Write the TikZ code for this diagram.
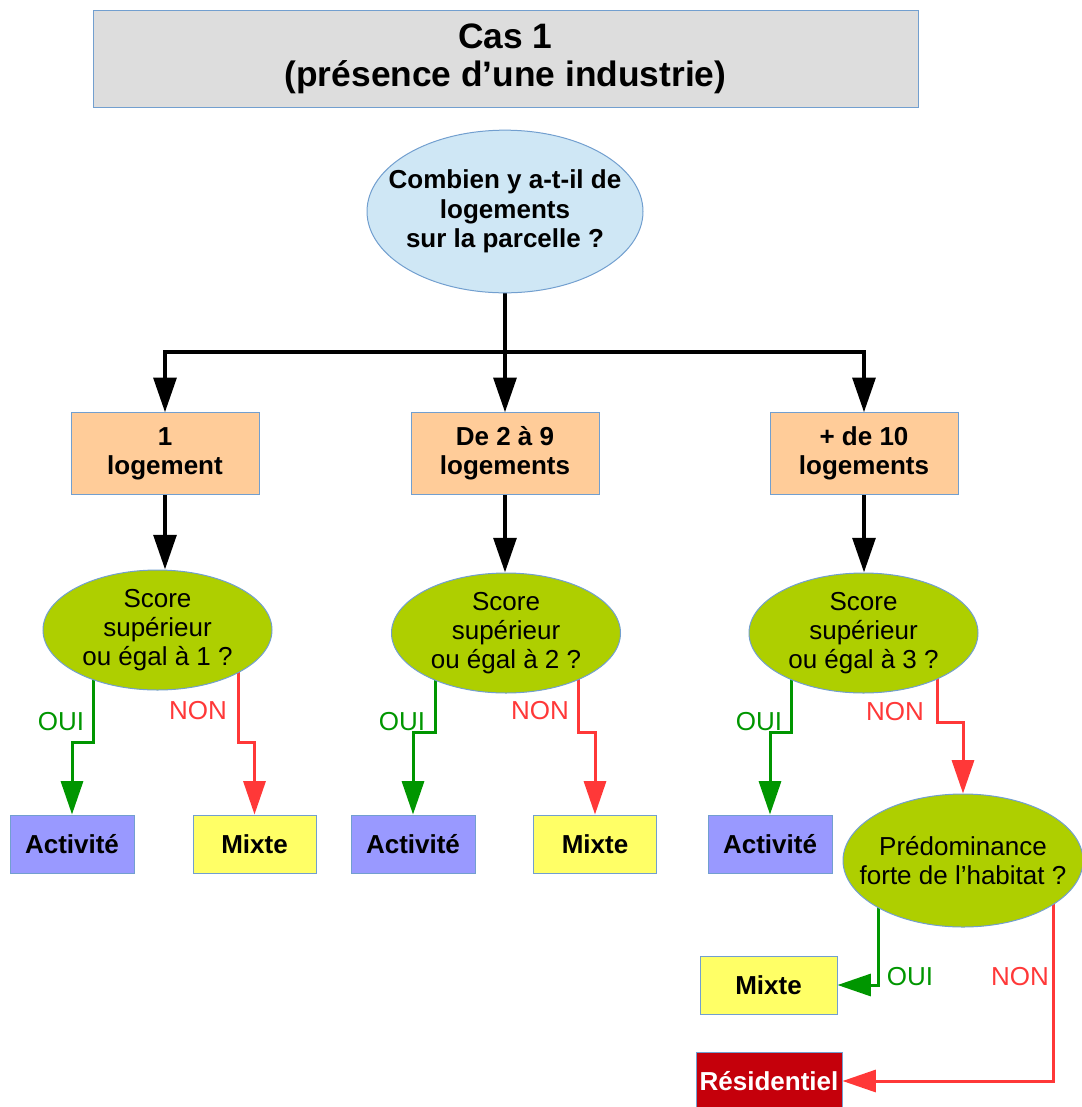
\documentclass[tikz,border=0pt]{standalone}
\usepackage{fontspec}
\setmainfont{Liberation Sans}
\usetikzlibrary{shapes.geometric,arrows.meta,calc,backgrounds}
\definecolor{boxblue}{RGB}{114,159,207}
\definecolor{titlegray}{RGB}{221,221,221}
\definecolor{lightblue}{RGB}{207,231,245}
\definecolor{peach}{RGB}{255,204,153}
\definecolor{yellowgreen}{RGB}{174,207,0}
\definecolor{lavender}{RGB}{153,153,255}
\definecolor{lightyellow}{RGB}{255,255,102}
\definecolor{darkred}{RGB}{197,0,11}
\definecolor{ouigreen}{RGB}{0,150,0}
\definecolor{nonred}{RGB}{255,56,56}
\tikzset{
  x=0.75pt, y=-0.75pt,
  bord/.style={draw=boxblue, line width=0.75pt},
  boldtxt/.style={font=\fontsize{19.5}{22}\selectfont\bfseries, align=center},
  regtxt/.style={font=\fontsize{19.5}{22}\selectfont, align=center},
  titlebox/.style={bord, fill=titlegray, minimum width=618.75pt, minimum height=72.75pt,
    font=\fontsize{26.5}{28.5}\selectfont\bfseries, align=center, inner sep=0pt},
  qblue/.style={ellipse, bord, fill=lightblue, minimum width=207pt, minimum height=122pt, inner sep=0pt},
  qgreen/.style={ellipse, bord, fill=yellowgreen, minimum width=171.75pt, minimum height=90pt, inner sep=0pt},
  countbox/.style={bord, fill=peach, minimum width=141pt, minimum height=61pt, boldtxt, inner sep=0pt},
  actbox/.style={bord, fill=lavender, minimum width=93pt, minimum height=43.5pt, boldtxt, inner sep=0pt},
  mixbox/.style={bord, fill=lightyellow, minimum width=92.25pt, minimum height=43.5pt, boldtxt, inner sep=0pt},
  resbox/.style={bord, fill=darkred, text=white, minimum width=109.5pt, minimum height=43.5pt, boldtxt, inner sep=0pt},
  blackarrow/.style={line width=3pt, -{Triangle[length=26pt,width=17pt]}},
  ouiarrow/.style={draw=ouigreen, line width=2.25pt, -{Triangle[length=25pt,width=16.5pt]}},
  nonarrow/.style={draw=nonred, line width=2.25pt, -{Triangle[length=25pt,width=16.5pt]}},
  ouilbl/.style={text=ouigreen, font=\fontsize{19.5}{22}\selectfont, inner sep=0pt},
  nonlbl/.style={text=nonred, font=\fontsize{19.5}{22}\selectfont, inner sep=0pt},
}
\begin{document}
\begin{tikzpicture}
\useasboundingbox (0,0) rectangle (1082,1107);

% title
\node[titlebox] (title) at (505.5,58.5) {Cas 1\\(présence d’une industrie)};

% top question
\node[qblue, label={[boldtxt]center:Combien y a-t-il de\\logements\\sur la parcelle ?}] (q0) at (505,211.5) {};
\coordinate (hub) at (505,352);

% counts
\node[countbox] (b1) at (165,453.5) {1\\logement};
\node[countbox] (b2) at (505,453.5) {De 2 à 9\\logements};
\node[countbox] (b3) at (864,453.5) {+ de 10\\logements};

% score questions
\node[qgreen, label={[regtxt]center:Score\\supérieur\\ou égal à 1 ?}] (e1) at (157.5,630) {};
\node[qgreen, label={[regtxt]center:Score\\supérieur\\ou égal à 2 ?}] (e2) at (506,633) {};
\node[qgreen, label={[regtxt]center:Score\\supérieur\\ou égal à 3 ?}] (e3) at (863.5,633) {};

% outcomes
\node[actbox] (a1) at (72,844) {Activité};
\node[mixbox] (m1) at (254.5,844) {Mixte};
\node[actbox] (a2) at (413,844) {Activité};
\node[mixbox] (m2) at (595,844) {Mixte};
\node[actbox] (a3) at (770,844) {Activité};

\node[ellipse, bord, fill=yellowgreen, minimum width=180pt, minimum height=99.75pt, inner sep=0pt,
  label={[regtxt]center:Prédominance\\forte de l’habitat ?}] (e4) at (963,860.5) {};

\node[mixbox, minimum width=102.75pt] (m3) at (768.5,985) {Mixte};
\node[resbox] (r) at (769,1081) {Résidentiel};

% labels
\node[ouilbl] (l1) at (61,722) {OUI};
\node[nonlbl] (n1) at (198,711) {NON};
\node[ouilbl] (l2) at (402,722) {OUI};
\node[nonlbl] (n2) at (540,711) {NON};
\node[ouilbl] (l3) at (759,722) {OUI};
\node[nonlbl] (n3) at (895,712) {NON};
\node[ouilbl] (l4) at (910,977) {OUI};
\node[nonlbl] (n4) at (1020,977) {NON};

\begin{scope}[on background layer]
  \draw[line width=3pt] (q0.center) -- (hub);
  \draw[blackarrow] (hub) -| (b1.north);
  \draw[blackarrow] (hub) -- (b2.north);
  \draw[blackarrow] (hub) -| (b3.north);
  \draw[blackarrow] (b1.south) -- (b1.south |- e1.north);
  \draw[blackarrow] (b2.south) -- (b2.south |- e2.north);
  \draw[blackarrow] (b3.south) -- (b3.south |- e3.north);

  \draw[ouiarrow] ($(e1.center)+(-64.5,0)$) |- ($(a1.north)+(0,-72)$) -- (a1.north);
  \draw[nonarrow] ($(e1.center)+(80.5,0)$) |- ($(m1.north)+(0,-72)$) -- (m1.north);
  \draw[ouiarrow] ($(e2.center)+(-71,0)$) |- ($(a2.north)+(0,-82)$) -- (a2.north);
  \draw[nonarrow] ($(e2.center)+(72,0)$) |- ($(m2.north)+(0,-82)$) -- (m2.north);
  \draw[ouiarrow] ($(e3.center)+(-72.5,0)$) |- ($(a3.north)+(0,-82)$) -- (a3.north);
  \draw[nonarrow] ($(e3.center)+(73.5,0)$) |- ($(e4.north)+(0,-71)$) -- (e4.north);
  \draw[ouiarrow] ($(e4.center)+(-85,0)$) |- (m3.east);
  \draw[nonarrow] ($(e4.center)+(90,0)$) |- (r.east);
\end{scope}
\end{tikzpicture}
\end{document}
